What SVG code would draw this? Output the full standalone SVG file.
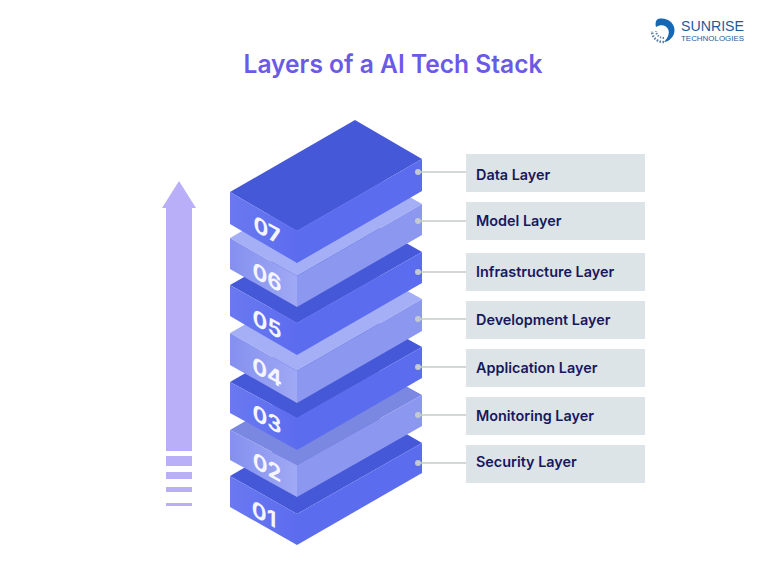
<svg xmlns="http://www.w3.org/2000/svg" width="780" height="563" viewBox="0 0 780 563">
<style>
.top-d{fill:#4558d8}.face-d{fill:#5c6cee}.left-d{fill:url(#ld)}
.top-l{fill:#a4aff6}.face-l{fill:#8c97f0}.left-l{fill:url(#ll)}
.top-m{fill:#7a88e2}
.num{font-family:"Inter","Liberation Sans",sans-serif;font-weight:700;font-size:22px;fill:#f4f5ff;text-anchor:middle}
.box{fill:#dde4e8}
.lbl{font-family:"Inter","Liberation Sans",sans-serif;font-weight:600;font-size:14.4px;fill:#17185c}
.ln{stroke:#c5cbca;stroke-width:1.5;fill:none}
.dot{fill:#c3cad6}
.ar{fill:#b9aff8}
</style>
<defs>
<linearGradient id="ld" x1="0" y1="0" x2="1" y2="0"><stop offset="0" stop-color="#6a79f0"/><stop offset="1" stop-color="#5c6cee"/></linearGradient>
<linearGradient id="ll" x1="0" y1="0" x2="1" y2="0"><stop offset="0" stop-color="#8490ef"/><stop offset="1" stop-color="#a0a9f4"/></linearGradient>
</defs>
<rect width="780" height="563" fill="#ffffff"/>
<text x="393" y="73" text-anchor="middle" font-family="Inter,'Liberation Sans',sans-serif" font-weight="600" font-size="25" fill="#6a5ae6" textLength="299" lengthAdjust="spacingAndGlyphs">Layers of a AI Tech Stack</text>
<g id="logo">
<path d="M664 42A11 11 0 0 1 652 31" fill="none" stroke="#5f7fa3" stroke-width="2.4" stroke-dasharray="1.6 1.4"/>
<path d="M664 38A7.5 7.5 0 0 1 656 31" fill="none" stroke="#5f7fa3" stroke-width="2" stroke-dasharray="1.4 1.4"/>
<path d="M658 19C667 17 675 23 674.500 31C674 37 669 41.500 664 42C668 38 670 33 668 29C666 25 661 24 656 27C655 23 656 20 658 19Z" fill="#1668b4"/>
<text x="681" y="31" font-family="'Liberation Sans',Arial,sans-serif" font-size="15" fill="#1d5a9c" textLength="63" lengthAdjust="spacingAndGlyphs">SUNRISE</text>
<text x="681" y="40.600" font-family="'Liberation Sans',Arial,sans-serif" font-size="7" fill="#1d5a9c" textLength="63" lengthAdjust="spacingAndGlyphs">TECHNOLOGIES</text>
</g>
<g id="growth-arrow">
<path class="ar" d="M179 181L196 208H192V451H166V208H162Z"/>
<rect class="ar" x="166" y="456" width="26" height="10"/>
<rect class="ar" x="166" y="472" width="26" height="7"/>
<rect class="ar" x="166" y="487" width="26" height="5"/>
<rect class="ar" x="166" y="503" width="26" height="3"/>
</g>
<g id="layer-01">
<path class="top-d" d="M230 476L355 404L422 443L297 514Z"/>
<path class="left-d" d="M230 476L297 514V545L230 507Z"/>
<path class="face-d" d="M297 514L422 443V473L297 545Z"/>
<text class="num" transform="matrix(1 .55 0 1 264 522)">01</text>
</g>
<g id="layer-02">
<path class="top-m" d="M230 430L355 358L422 395L297 465Z"/>
<path class="left-l" d="M230 430L297 465V497L230 460Z"/>
<path class="face-l" d="M297 465L422 395V426L297 497Z"/>
<text class="num" transform="matrix(1 .55 0 1 267 475)">02</text>
</g>
<g id="layer-03">
<path class="top-d" d="M230 382L355 310L422 347L297 418Z"/>
<path class="left-d" d="M230 382L297 418V450L230 413Z"/>
<path class="face-d" d="M297 418L422 347V378L297 450Z"/>
<text class="num" transform="matrix(1 .55 0 1 267 427)">03</text>
</g>
<g id="layer-04">
<path class="top-l" d="M230 333L355 262L422 299L297 371Z"/>
<path class="left-l" d="M230 333L297 371V403L230 365Z"/>
<path class="face-l" d="M297 371L422 299V331L297 403Z"/>
<text class="num" transform="matrix(1 .55 0 1 267 380)">04</text>
</g>
<g id="layer-05">
<path class="top-d" d="M230 285L355 214L422 252L297 323Z"/>
<path class="left-d" d="M230 285L297 323V355L230 316Z"/>
<path class="face-d" d="M297 323L422 252V283L297 355Z"/>
<text class="num" transform="matrix(1 .55 0 1 267 332)">05</text>
</g>
<g id="layer-06">
<path class="top-l" d="M230 238L355 166L422 204L297 276Z"/>
<path class="left-l" d="M230 238L297 276V307L230 269Z"/>
<path class="face-l" d="M297 276L422 204V235L297 307Z"/>
<text class="num" transform="matrix(1 .55 0 1 267 285)">06</text>
</g>
<g id="layer-07">
<path class="top-d" d="M230 192L355 120L422 159L297 231Z"/>
<path class="left-d" d="M230 192L297 231V263L230 224Z"/>
<path class="face-d" d="M297 231L422 159V191L297 263Z"/>
<text class="num" transform="matrix(1 .55 0 1 267 238)">07</text>
</g>
<g id="connectors">
<path class="ln" d="M418 172H467M418 221H467M418 272H467M418 319H467M418 367H467M418 415H467M418 463H467"/>
<circle class="dot" cx="418" cy="172" r="3"/><circle class="dot" cx="418" cy="221" r="3"/><circle class="dot" cx="418" cy="272" r="3"/><circle class="dot" cx="418" cy="319" r="3"/><circle class="dot" cx="418" cy="367" r="3"/><circle class="dot" cx="418" cy="415" r="3"/><circle class="dot" cx="418" cy="463" r="3"/>
</g>
<g id="label-data"><rect class="box" x="466" y="154" width="179" height="38"/><text class="lbl" x="476" y="180">Data Layer</text></g>
<g id="label-model"><rect class="box" x="466" y="202" width="179" height="38"/><text class="lbl" x="476" y="226">Model Layer</text></g>
<g id="label-infrastructure"><rect class="box" x="466" y="253" width="179" height="38"/><text class="lbl" x="476" y="277">Infrastructure Layer</text></g>
<g id="label-development"><rect class="box" x="466" y="301" width="179" height="38"/><text class="lbl" x="476" y="325">Development Layer</text></g>
<g id="label-application"><rect class="box" x="466" y="349" width="179" height="38"/><text class="lbl" x="476" y="373">Application Layer</text></g>
<g id="label-monitoring"><rect class="box" x="466" y="397" width="179" height="38"/><text class="lbl" x="476" y="421">Monitoring Layer</text></g>
<g id="label-security"><rect class="box" x="466" y="445" width="179" height="38"/><text class="lbl" x="476" y="467">Security Layer</text></g>
</svg>
